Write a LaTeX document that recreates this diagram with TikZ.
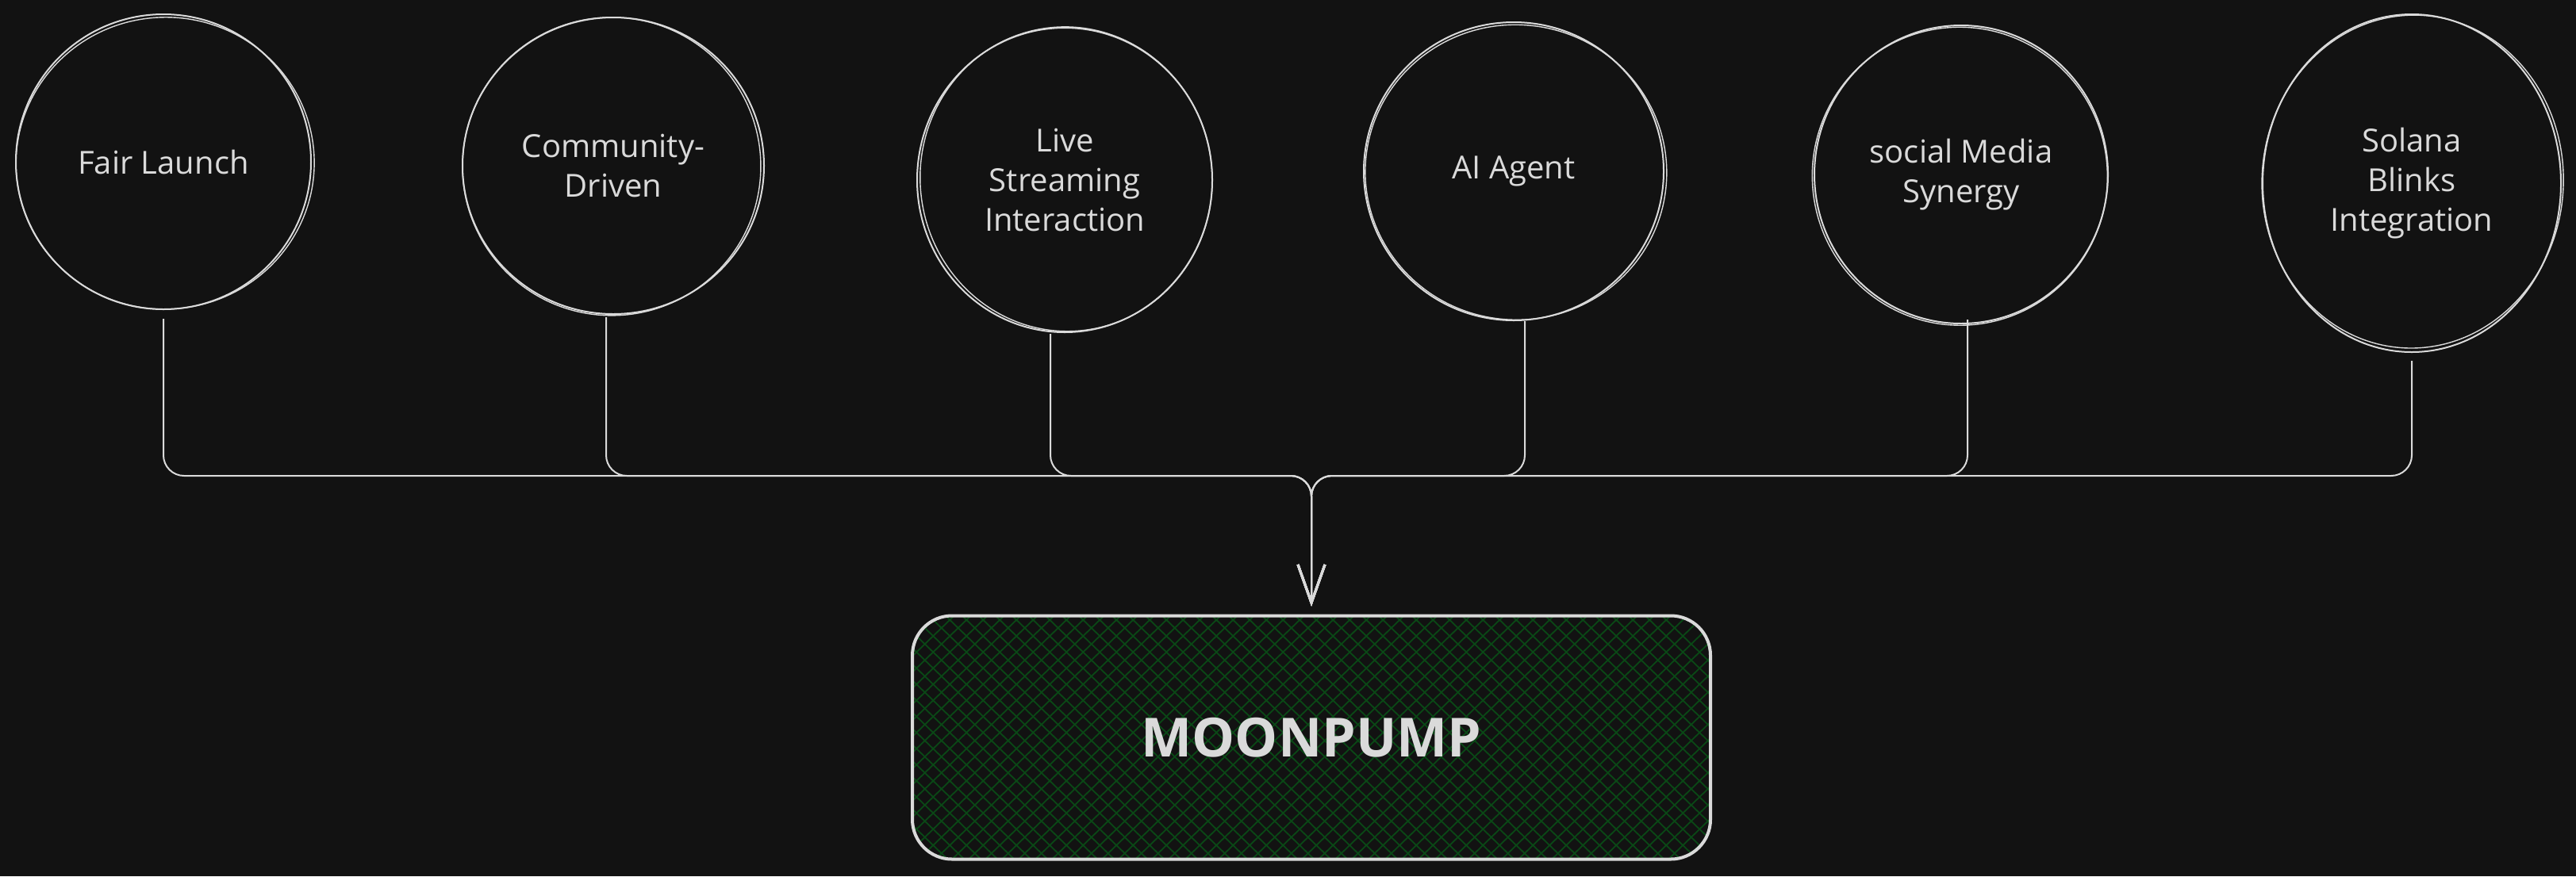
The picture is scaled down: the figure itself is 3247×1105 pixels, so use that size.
\documentclass[tikz,border=0pt]{standalone}
\usepackage{fontspec}
\setmainfont{Open Sans}
\usetikzlibrary{shapes.geometric,arrows.meta}
\definecolor{bg}{HTML}{121212}
\definecolor{ink}{HTML}{DADADA}
\definecolor{hatchgreen}{RGB}{10,72,22}
\begin{document}
\begin{tikzpicture}[x=0.5pt,y=-0.5pt,
  bubble/.style={ellipse,draw=ink,line width=1pt,inner sep=0pt,text=ink,align=center,
    font=\fontsize{20}{25}\selectfont},
  sketch/.style={draw=ink,line width=0.7pt},
  conn/.style={draw=ink,line width=1pt,rounded corners=13pt,
    -{Straight Barb[length=24pt,width=17pt,line width=1.5pt]}},
  hatch/.style={draw=hatchgreen,line width=0.9pt},
  mainbox/.style={rectangle,rounded corners=25pt,minimum width=503pt,minimum height=153.5pt,
    draw=ink,line width=2pt,text=ink,font=\fontsize{34}{40}\selectfont\bfseries,
    path picture={
      \begin{scope}[shift={(path picture bounding box.center)}]
        \foreach \i in {-40,...,40}{
          \draw[hatch] ({\i*10.5pt-150pt},-145pt) -- ({\i*10.5pt+150pt},145pt);
          \draw[hatch] ({\i*10.5pt+150pt},-145pt) -- ({\i*10.5pt-150pt},145pt);
        }
      \end{scope}
    }}]
\useasboundingbox (0,0) rectangle (3247,1105);
\fill[bg] (0,0) rectangle (3247,1105);

% bubbles
\node[bubble,minimum width=186pt,minimum height=186pt] (c1) at (206,204) {Fair Launch};
\node[bubble,minimum width=190pt,minimum height=187pt] (c2) at (773,209) {Community-\\Driven};
\node[bubble,minimum width=186pt,minimum height=192pt] (c3) at (1342,227) {Live\\Streaming\\Interaction};
\node[bubble,minimum width=189pt,minimum height=188pt] (c4) at (1908,216) {AI Agent};
\node[bubble,minimum width=185pt,minimum height=188pt] (c5) at (2472,220) {social Media\\Synergy};
\node[bubble,minimum width=188pt,minimum height=213pt] (c6) at (3040,231) {Solana\\Blinks\\Integration};

% sketchy second strokes
\draw[sketch,rotate around={5:(c1.center)}] ([shift={(2,2)}]c1.center) ellipse [x radius=94pt,y radius=92pt];
\draw[sketch,rotate around={-4:(c2.center)}] ([shift={(-2,1)}]c2.center) ellipse [x radius=94pt,y radius=94pt];
\draw[sketch,rotate around={6:(c3.center)}] ([shift={(2,-1)}]c3.center) ellipse [x radius=92pt,y radius=96pt];
\draw[sketch,rotate around={-5:(c4.center)}] ([shift={(3,1)}]c4.center) ellipse [x radius=95pt,y radius=93pt];
\draw[sketch,rotate around={7:(c5.center)}] ([shift={(-2,2)}]c5.center) ellipse [x radius=93pt,y radius=94pt];
\draw[sketch,rotate around={-3:(c6.center)}] ([shift={(1,-2)}]c6.center) ellipse [x radius=95pt,y radius=105pt];

% target box
\node[mainbox] (mp) at (1653,930) {MOONPUMP};

% connectors
\coordinate (bus) at (1653,600);
\draw[conn] ([yshift=-5.5pt]c1.south) |- (bus) -- ([yshift=5pt]mp.north);
\draw[conn] ([xshift=-4.5pt,yshift=-1.5pt]c2.south) |- (bus) -- ([yshift=5pt]mp.north);
\draw[conn] ([xshift=-9pt,yshift=-0.5pt]c3.south) |- (bus) -- ([yshift=5pt]mp.north);
\draw[conn] ([xshift=7pt,yshift=0pt]c4.south) |- (bus) -- ([yshift=5pt]mp.north);
\draw[conn] ([xshift=4pt,yshift=3pt]c5.south) |- (bus) -- ([yshift=5pt]mp.north);
\draw[conn] ([yshift=-5pt]c6.south) |- (bus) -- ([yshift=5pt]mp.north);
\end{tikzpicture}
\end{document}
